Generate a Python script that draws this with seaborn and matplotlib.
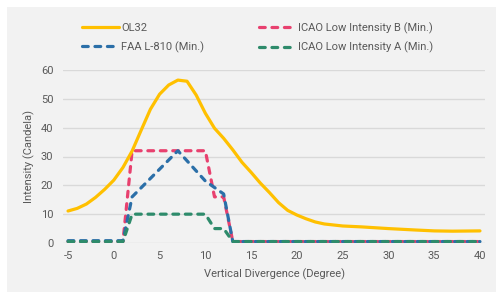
import numpy as np
import pandas as pd
import matplotlib
matplotlib.use('Agg')
import matplotlib.pyplot as plt
from matplotlib.patches import Rectangle
import seaborn as sns

# ---- data ----
ol32_x = [-5, -4, -3, -2, -1, 0, 1, 2, 3, 4, 5, 6, 7, 8, 9, 10, 11, 12, 13, 14,
          15, 16, 17, 18, 19, 20, 21, 22, 23, 25, 27, 30, 33, 35, 37, 40]
ol32_y = [11.1, 12.0, 13.5, 15.8, 18.6, 21.8, 26.2, 31.9, 39.2, 46.4, 51.6, 54.8,
          56.5, 56.1, 51.3, 45.0, 39.8, 36.3, 32.3, 28.0, 24.5, 20.8, 17.5, 14.0,
          11.3, 9.7, 8.4, 7.3, 6.6, 5.9, 5.6, 5.0, 4.5, 4.2, 4.1, 4.2]

icao_b_x = [-5, 1, 2, 10, 11, 12, 13, 40]
icao_b_y = [0.5, 0.5, 32, 32, 16, 16, 0.5, 0.5]

faa_x = [-5, 1, 2, 7, 10, 12, 13, 40]
faa_y = [0.8, 0.8, 16, 32, 21.5, 17, 0.5, 0.5]

icao_a_x = [-5, 1, 2, 10, 11, 12, 13, 40]
icao_a_y = [0.5, 0.5, 10, 10, 5, 5, 0.5, 0.5]

x_ticks = [-5, 0, 5, 10, 15, 20, 25, 30, 35, 40]
y_ticks = [0, 10, 20, 30, 40, 50, 60]

BG = '#f2f2f2'
TXT = '#595959'
FS = 8

sns.set_theme(style='whitegrid')
plt.rcParams['font.family'] = ['Roboto', 'DejaVu Sans']
plt.rcParams['axes.unicode_minus'] = False

fig = plt.figure(figsize=(4.96, 2.93), dpi=100, facecolor='white')
fig.patches.append(Rectangle((7 / 496, 1 / 293), 489 / 496, 285 / 293,
                             transform=fig.transFigure, facecolor=BG,
                             edgecolor='none', zorder=-5))
ax = fig.add_axes([63 / 496, 1 - 243 / 293, 422 / 496, 173 / 293])
ax.set_facecolor(BG)

# OL32 solide, digerleri kesikli
sns.lineplot(x=ol32_x, y=ol32_y, ax=ax, color='#FFC000', lw=2.3,
             label='OL32', sort=False, zorder=3)
series = [
    (faa_x, faa_y, '#2B6FA8', 'FAA L-810 (Min.)'),
    (icao_b_x, icao_b_y, '#E8416F', 'ICAO Low Intensity B (Min.)'),
    (icao_a_x, icao_a_y, '#2E8B6B', 'ICAO Low Intensity A (Min.)'),
]
for xs, ys, c, lab in series:
    sns.lineplot(x=xs, y=ys, ax=ax, color=c, lw=2.3, label=lab, sort=False)
    ln = ax.lines[-1]
    ln.set_dashes([1.8, 2.1])
    ln.set_dash_capstyle('round')

# ciz sirasi: pembe, mavi, yesil ustte
ax.lines[2].set_zorder(2.1)
ax.lines[1].set_zorder(2.2)
ax.lines[3].set_zorder(2.3)

ax.set_xlim(-5.55, 40.55)
ax.set_ylim(0, 60)
ax.set_xticks(x_ticks)
ax.set_yticks(y_ticks)
ax.grid(axis='y', color='#d9d9d9', lw=1)
ax.grid(axis='x', visible=False)
for s in ax.spines.values():
    s.set_visible(False)
ax.tick_params(axis='both', labelsize=FS, colors=TXT, length=0)
ax.tick_params(axis='x', pad=6)
ax.tick_params(axis='y', pad=7)
ax.set_xlabel('Vertical Divergence (Degree)', fontsize=FS, color=TXT, labelpad=5)
ax.set_ylabel('Intensity (Candela)', fontsize=FS, color=TXT, labelpad=4)

ax.get_legend().remove()
h, l = ax.get_legend_handles_labels()
fig.legend(h, l, ncol=2, loc='upper left', bbox_to_anchor=(72 / 496, 1 - 12 / 293),
           frameon=False, fontsize=FS, labelcolor=TXT, handlelength=3.3,
           handletextpad=0.25, columnspacing=4.9, labelspacing=0.75)

fig.savefig('out.png', dpi=100, facecolor='white')
